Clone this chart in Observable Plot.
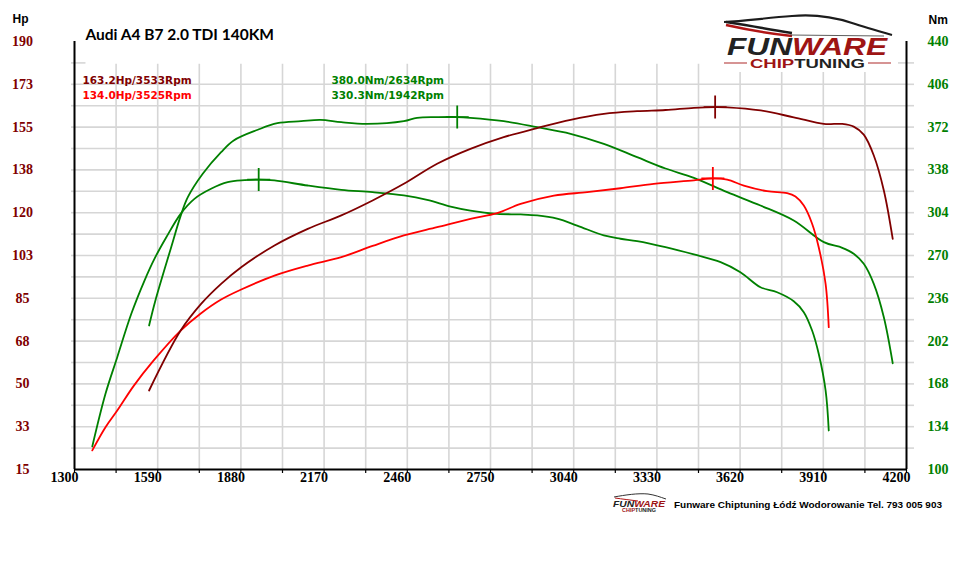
<!DOCTYPE html>
<html><head><meta charset="utf-8">
<script src="https://cdn.jsdelivr.net/npm/d3@7"></script>
<script src="https://cdn.jsdelivr.net/npm/@observablehq/plot@0.6"></script>
<style>
body{margin:0;background:#fff;}
#wrap{position:relative;width:960px;height:574px;overflow:hidden;}
#wrap > svg{position:absolute;left:0;top:0;}
</style></head><body><div id="wrap"></div>
<script>
// ---------- data ----------
const chartTitle = "Audi A4 B7 2.0 TDI 140KM";
const footerText = "Funware Chiptuning Łódź Wodorowanie Tel. 793 005 903";
const rpmTicks = [1300,1590,1880,2170,2460,2750,3040,3330,3620,3910,4200];
const hpTicks = [15,32.5,50,67.5,85,102.5,120,137.5,155,172.5,190];
const nmTicks = [100,134,168,202,236,270,304,338,372,406,440];

const tunedHpRpm = [1560,1670,1742,1811,1881,1997,2113,2230,2339,2448,2564,2680,2796,2913,3029,3145,3261,3360,3459,3533,3575,3691,3807,3912,3976,4016,4051,4086,4121,4152];
const tunedHp    = [47.3,71.8,82.8,90.9,97.7,106.6,113.4,118.9,125.0,131.8,140,146.1,150.9,154.6,158,160.4,161.5,162,162.9,163.2,163.1,161.8,159,156.3,156.3,155.2,151.9,143.4,129.1,109.3];

const stockHpRpm = [1362,1408,1449,1507,1576,1670,1739,1811,1881,1997,2113,2230,2339,2448,2564,2680,2773,2855,2971,3087,3203,3319,3459,3525,3575,3633,3714,3784,3813,3842,3871,3894,3918,3929];
const stockHp    = [22.8,32.3,39.1,49.3,59.6,71.8,78.7,84.5,88.6,94.3,98.4,101.8,106.4,110.7,114.1,117.5,119.8,123.6,127,128.4,130,131.8,133.2,134.0,133.5,131.1,128.8,128,126.6,122.9,115.5,105.9,90.9,73.2];

const tunedNmRpm = [1560,1582,1637,1670,1695,1747,1811,1855,1939,2007,2090,2157,2230,2320,2448,2494,2564,2634,2680,2796,2913,3029,3145,3261,3360,3459,3575,3691,3807,3912,3976,4016,4051,4086,4121,4152];
const tunedNm    = [214.4,234.3,276.6,301.5,316.3,334.9,352.1,361.4,369.9,375.1,376.7,377.8,375.9,374.6,376.7,379.4,379.9,380.0,379.4,376.7,371.9,366.7,358.7,348.1,339.1,331.7,320.3,309.7,297.8,280.6,276.1,271.4,263.4,247.5,221,184.4];

const stockNmRpm = [1362,1408,1449,1498,1544,1579,1620,1670,1718,1776,1834,1893,1942,1997,2113,2230,2339,2448,2529,2611,2680,2773,2855,2913,2982,3052,3145,3203,3261,3360,3459,3552,3621,3691,3749,3807,3842,3871,3894,3918,3929];
const stockNm    = [118.3,160.1,189.2,223.7,250.1,267.5,284.5,303.1,315,323,328.2,329.8,330.3,329.6,325.6,322.2,320.3,317.7,314.2,308.9,305.7,303.1,302.6,301.8,299.2,293.8,285.9,283.3,281.4,276.6,270.8,264.7,256.7,244.8,240.8,233.7,225,210.4,191.9,162.8,131];

const peakValues = [163.2, 134.0, 380.0, 330.3];
const peakRpms   = [3533, 3525, 2634, 1942];
const peakUnits  = ["Hp", "Hp", "Nm", "Nm"];
const peakColors = ["#800000", "#ff0000", "#008000", "#008000"];

// ---------- build ----------
const X_DOMAIN = [1300, 4200], HP_DOMAIN = [15, 190], NM_DOMAIN = [100, 440];
const nmToHp = d3.scaleLinear(NM_DOMAIN, HP_DOMAIN);
const zip = (xs, ys) => xs.map((x, i) => ({rpm: x, v: ys[i]}));
const sTunedHp = zip(tunedHpRpm, tunedHp);
const sStockHp = zip(stockHpRpm, stockHp);
const sTunedNm = zip(tunedNmRpm, tunedNm).map(d => ({rpm: d.rpm, v: nmToHp(d.v)}));
const sStockNm = zip(stockNmRpm, stockNm).map(d => ({rpm: d.rpm, v: nmToHp(d.v)}));
const peaks = peakValues.map((v, i) => ({
  rpm: peakRpms[i],
  y: peakUnits[i] === "Hp" ? v : nmToHp(v),
  color: peakColors[i],
  label: v.toFixed(1) + peakUnits[i] + "/" + peakRpms[i] + "Rpm"
}));
const rpmGrid = d3.range(X_DOMAIN[0], X_DOMAIN[1] + 1, 145);
const hpGrid = d3.range(HP_DOMAIN[0], HP_DOMAIN[1] - 17, 8.75); // 15 .. 172.5
const topStub = HP_DOMAIN[1] - 8.75;

const cross = {draw(ctx, size) { const r = Math.sqrt(size / Math.PI); ctx.moveTo(-r, 0); ctx.lineTo(r, 0); ctx.moveTo(0, -r); ctx.lineTo(0, r); }};

const GRID = "#d6d6d6";
const CURVE = "catmull-rom";
const axisFont = {fontFamily: "Liberation Serif", fontWeight: "bold", fontSize: 14};
const annFont = {fontFamily: "DejaVu Sans", fontWeight: "bold", fontSize: 10.5, textAnchor: "start", frameAnchor: "top-left", text: "label", fill: "color"};

const chart = Plot.plot({
  width: 960, height: 574,
  marginTop: 41, marginRight: 54, marginBottom: 105, marginLeft: 74,
  x: {domain: X_DOMAIN, axis: null, label: null},
  y: {domain: HP_DOMAIN, axis: null, label: null},
  style: {background: "#fff", overflow: "visible"},
  marks: [
    // grid
    Plot.ruleY(hpGrid.slice(1), {stroke: GRID, strokeWidth: 1.6}),
    Plot.ruleX(rpmGrid.slice(1, -1), {y1: HP_DOMAIN[0], y2: topStub - 0.6, stroke: GRID, strokeWidth: 1.6}),
    Plot.axisY(hpGrid.slice(1).concat([topStub]), {anchor: "left", tickSize: 3, tickFormat: () => "", label: null, stroke: GRID, strokeWidth: 1.6}),
    Plot.axisY(hpGrid.slice(1).concat([topStub]), {anchor: "right", tickSize: 7, tickFormat: () => "", label: null, stroke: GRID, strokeWidth: 1.6}),
    Plot.ruleY([topStub], {x1: X_DOMAIN[0], x2: X_DOMAIN[0] + 40, stroke: GRID, strokeWidth: 1.6}),
    Plot.ruleY([topStub], {x1: X_DOMAIN[1] - 28, x2: X_DOMAIN[1], stroke: GRID, strokeWidth: 1.6}),
    // axis lines
    Plot.axisX(rpmGrid, {tickSize: 4, tickFormat: () => "", label: null, stroke: "#000", strokeWidth: 1.2}),
    Plot.ruleX(X_DOMAIN, {y1: HP_DOMAIN[0], y2: HP_DOMAIN[1], stroke: "#000", strokeWidth: 2}),
    Plot.ruleY([HP_DOMAIN[0]], {stroke: "#000", strokeWidth: 2}),
    // tick labels
    Plot.text(rpmTicks, {x: d => d, frameAnchor: "bottom", dy: 12.5, dx: -10, text: d => String(d), fill: "#000", ...axisFont}),
    Plot.text(hpTicks, {y: d => d, frameAnchor: "left", dx: -52, textAnchor: "middle", text: d => String(Math.round(d)), fill: "#800000", ...axisFont}),
    Plot.text(nmTicks, {y: d => nmToHp(d), frameAnchor: "right", dx: 31.5, textAnchor: "middle", text: d => String(d), fill: "#008000", ...axisFont}),
    Plot.text(["Hp"], {frameAnchor: "top-left", dx: -62, dy: -27, textAnchor: "start", fill: "#000", fontFamily: "Liberation Sans", fontWeight: "bold", fontSize: 12}),
    Plot.text(["Nm"], {frameAnchor: "top-right", dx: 22, dy: -26, textAnchor: "start", fill: "#000", fontFamily: "Liberation Sans", fontWeight: "bold", fontSize: 12}),
    Plot.text([chartTitle], {frameAnchor: "top-left", dx: 11, dy: -13, textAnchor: "start", fill: "#000", fontFamily: "Lato", fontWeight: "bold", fontSize: 15.5}),
    // curves
    Plot.line(sStockNm, {x: "rpm", y: "v", stroke: "#008000", strokeWidth: 1.8, curve: CURVE}),
    Plot.line(sTunedNm, {x: "rpm", y: "v", stroke: "#008000", strokeWidth: 1.8, curve: CURVE}),
    Plot.line(sStockHp, {x: "rpm", y: "v", stroke: "#ff0000", strokeWidth: 1.8, curve: CURVE}),
    Plot.line(sTunedHp, {x: "rpm", y: "v", stroke: "#800000", strokeWidth: 1.8, curve: CURVE}),
    // peak markers
    Plot.dot(peaks, {x: "rpm", y: "y", symbol: cross, r: 11.5, stroke: "color", fill: "none", strokeWidth: 1.8}),
    // peak labels
    Plot.text([peaks[0]], {...annFont, dx: 8, dy: 35}),
    Plot.text([peaks[1]], {...annFont, dx: 8, dy: 50}),
    Plot.text([peaks[2]], {...annFont, dx: 257, dy: 35}),
    Plot.text([peaks[3]], {...annFont, dx: 257, dy: 50}),
  ]
});
const wrap = document.getElementById("wrap");
wrap.appendChild(chart);

// ---------- logo and footer (decoration) ----------
const NS = "http://www.w3.org/2000/svg";
const deco = document.createElementNS(NS, "svg");
deco.setAttribute("width", 960); deco.setAttribute("height", 574);
deco.style.pointerEvents = "none";
deco.innerHTML = `
  <rect x="718" y="6" width="178" height="66" fill="#fff"/>
  <path d="M724,22 C745,21 765,18 792,16 C814,14 834,17 852,23 C864,27 878,31 892,35" fill="none" stroke="#1c1c1c" stroke-width="2.2"/>
  <path d="M726,22 C742,24 760,28 792,33" fill="none" stroke="#1c1c1c" stroke-width="2.4"/>
  <path d="M726,25 C744,29 764,33 792,36" fill="none" stroke="#b01515" stroke-width="2.6"/>
  <path d="M790,35 L884,36" fill="none" stroke="#333" stroke-width="0.8"/>
  <text x="727" y="55" font-family="Liberation Sans" font-weight="900" font-style="italic" font-size="24" textLength="160" lengthAdjust="spacingAndGlyphs"><tspan fill="#222">FUN</tspan><tspan fill="#9e1414">WARE</tspan></text>
  <line x1="724" y1="63" x2="747" y2="63" stroke="#c05a5a" stroke-width="1.3"/>
  <line x1="868" y1="63" x2="891" y2="63" stroke="#c05a5a" stroke-width="1.3"/>
  <text x="750" y="68" font-family="Liberation Sans" font-weight="bold" font-size="13" textLength="115" lengthAdjust="spacingAndGlyphs"><tspan fill="#9e1414">CHIP</tspan><tspan fill="#222">TUNING</tspan></text>

  <path d="M614,497 C625,495 638,493 648,494 C655,495 660,497 666,499" fill="none" stroke="#333" stroke-width="1"/>
  <path d="M615,498 C622,499 630,500 638,501" fill="none" stroke="#b01515" stroke-width="1"/>
  <text x="613" y="507" font-family="Liberation Sans" font-weight="900" font-style="italic" font-size="9" textLength="52" lengthAdjust="spacingAndGlyphs"><tspan fill="#222">FUN</tspan><tspan fill="#9e1414">WARE</tspan></text>
  <text x="622" y="512" font-family="Liberation Sans" font-weight="bold" font-size="4.5" textLength="34" lengthAdjust="spacingAndGlyphs"><tspan fill="#9e1414">CHIP</tspan><tspan fill="#222">TUNING</tspan></text>
`;
const ft = document.createElementNS(NS, "text");
ft.setAttribute("x", 674); ft.setAttribute("y", 507.5);
ft.setAttribute("font-family", "Liberation Sans"); ft.setAttribute("font-weight", "bold");
ft.setAttribute("font-size", "9"); ft.setAttribute("fill", "#000");
ft.setAttribute("textLength", "268"); ft.setAttribute("lengthAdjust", "spacingAndGlyphs");
ft.textContent = footerText;
deco.appendChild(ft);
wrap.appendChild(deco);
</script>
</body></html>
